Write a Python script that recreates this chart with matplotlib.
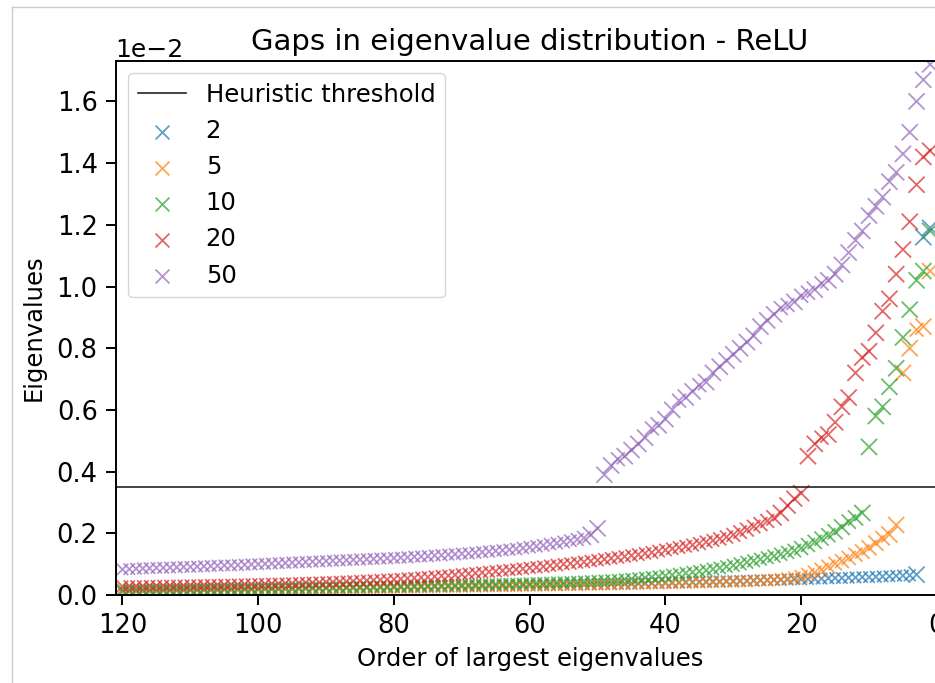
import numpy as np
import matplotlib
matplotlib.use("Agg")
import matplotlib.pyplot as plt
from matplotlib.lines import Line2D

# eigenvalues (in units of 1e-2), ordered from the largest (rank 1) to rank 120
SCALE = 1e-2
threshold = 0.35

ranks = np.arange(1, 121)

eig_2 = [
    1.190, 1.160,
    0.066, 0.064, 0.063, 0.062, 0.061, 0.060, 0.059, 0.058, 0.058, 0.057,
    0.056, 0.055, 0.055, 0.054, 0.053, 0.053, 0.052, 0.051, 0.051, 0.050,
    0.049, 0.049, 0.048, 0.048, 0.047, 0.046, 0.046, 0.045, 0.045, 0.044,
    0.044, 0.043, 0.043, 0.042, 0.042, 0.041, 0.041, 0.040, 0.040, 0.039,
    0.039, 0.038, 0.038, 0.037, 0.037, 0.036, 0.036, 0.036, 0.035, 0.035,
    0.034, 0.034, 0.034, 0.033, 0.033, 0.032, 0.032, 0.032, 0.031, 0.031,
    0.031, 0.030, 0.030, 0.030, 0.029, 0.029, 0.029, 0.028, 0.028, 0.028,
    0.027, 0.027, 0.027, 0.026, 0.026, 0.026, 0.025, 0.025, 0.025, 0.024,
    0.024, 0.024, 0.023, 0.023, 0.023, 0.022, 0.022, 0.022, 0.021, 0.021,
    0.021, 0.020, 0.020, 0.020, 0.019, 0.019, 0.019, 0.018, 0.018, 0.018,
    0.017, 0.017, 0.017, 0.016, 0.016, 0.016, 0.015, 0.015, 0.015, 0.014,
    0.014, 0.014, 0.013, 0.013, 0.013, 0.012, 0.012, 0.011,
]

eig_5 = [
    1.050, 0.870, 0.860, 0.800, 0.720,
    0.227, 0.196, 0.184, 0.168, 0.153, 0.141, 0.131, 0.120, 0.110, 0.102,
    0.092, 0.082, 0.073, 0.066, 0.060, 0.056, 0.053, 0.051, 0.049, 0.048,
    0.047, 0.046, 0.045, 0.044, 0.043, 0.043, 0.042, 0.041, 0.041, 0.040,
    0.040, 0.039, 0.039, 0.038, 0.038, 0.037, 0.037, 0.036, 0.036, 0.035,
    0.035, 0.035, 0.034, 0.034, 0.033, 0.033, 0.033, 0.032, 0.032, 0.032,
    0.031, 0.031, 0.031, 0.030, 0.030, 0.030, 0.029, 0.029, 0.029, 0.028,
    0.028, 0.028, 0.027, 0.027, 0.027, 0.026, 0.026, 0.026, 0.026, 0.025,
    0.025, 0.025, 0.024, 0.024, 0.024, 0.023, 0.023, 0.023, 0.023, 0.022,
    0.022, 0.022, 0.021, 0.021, 0.021, 0.021, 0.020, 0.020, 0.020, 0.019,
    0.019, 0.019, 0.019, 0.018, 0.018, 0.018, 0.017, 0.017, 0.017, 0.017,
    0.016, 0.016, 0.016, 0.015, 0.015, 0.015, 0.015, 0.014, 0.014, 0.014,
    0.013, 0.013, 0.013, 0.012, 0.012,
]

eig_10 = [
    1.180, 1.050, 1.020, 0.925, 0.835, 0.735, 0.675, 0.610, 0.580, 0.480,
    0.266, 0.250, 0.238, 0.220, 0.205, 0.194, 0.183, 0.172, 0.162, 0.152,
    0.144, 0.138, 0.132, 0.126, 0.121, 0.116, 0.111, 0.106, 0.101, 0.096,
    0.092, 0.088, 0.084, 0.080, 0.077, 0.074, 0.071, 0.068, 0.065, 0.062,
    0.060, 0.058, 0.056, 0.054, 0.052, 0.051, 0.049, 0.048, 0.047, 0.046,
    0.045, 0.044, 0.043, 0.042, 0.041, 0.041, 0.040, 0.039, 0.039, 0.038,
    0.037, 0.037, 0.036, 0.036, 0.035, 0.035, 0.034, 0.034, 0.033, 0.033,
    0.032, 0.032, 0.031, 0.031, 0.031, 0.030, 0.030, 0.029, 0.029, 0.029,
    0.028, 0.028, 0.028, 0.027, 0.027, 0.027, 0.026, 0.026, 0.026, 0.025,
    0.025, 0.025, 0.025, 0.024, 0.024, 0.024, 0.023, 0.023, 0.023, 0.023,
    0.022, 0.022, 0.022, 0.022, 0.021, 0.021, 0.021, 0.021, 0.020, 0.020,
    0.020, 0.020, 0.019, 0.019, 0.019, 0.019, 0.018, 0.018, 0.018, 0.018,
]

eig_20 = [
    1.440, 1.420, 1.330, 1.210, 1.120, 1.040, 0.960, 0.920, 0.850, 0.790,
    0.770, 0.720, 0.640, 0.610, 0.560, 0.520, 0.510, 0.490, 0.450,
    0.330,
    0.312, 0.290, 0.266, 0.250, 0.240, 0.230, 0.222, 0.212, 0.204, 0.195,
    0.188, 0.182, 0.177, 0.172, 0.167, 0.162, 0.158, 0.154, 0.150, 0.146,
    0.142, 0.138, 0.135, 0.131, 0.128, 0.125, 0.122, 0.119, 0.116, 0.113,
    0.110, 0.107, 0.105, 0.102, 0.100, 0.097, 0.095, 0.092, 0.090, 0.088,
    0.085, 0.083, 0.081, 0.079, 0.077, 0.075, 0.073, 0.071, 0.069, 0.067,
    0.065, 0.063, 0.062, 0.060, 0.058, 0.057, 0.055, 0.054, 0.052, 0.051,
    0.050, 0.049, 0.048, 0.047, 0.046, 0.045, 0.044, 0.043, 0.042, 0.042,
    0.041, 0.040, 0.040, 0.039, 0.038, 0.038, 0.037, 0.037, 0.036, 0.036,
    0.035, 0.035, 0.034, 0.034, 0.033, 0.033, 0.033, 0.032, 0.032, 0.032,
    0.031, 0.031, 0.031, 0.030, 0.030, 0.030, 0.029, 0.029, 0.029, 0.028,
]

eig_50 = [
    1.720, 1.670, 1.600, 1.500, 1.430, 1.370, 1.340, 1.290, 1.260, 1.230,
    1.180, 1.150, 1.110, 1.070, 1.040, 1.020, 1.010, 0.990, 0.980, 0.970,
    0.950, 0.940, 0.930, 0.910, 0.890, 0.870, 0.840, 0.820, 0.800, 0.780,
    0.760, 0.740, 0.720, 0.690, 0.680, 0.660, 0.640, 0.630, 0.600, 0.570,
    0.550, 0.540, 0.510, 0.490, 0.470, 0.450, 0.440, 0.420, 0.390,
    0.216,
    0.195, 0.185, 0.180, 0.176, 0.172, 0.168, 0.165, 0.161, 0.158, 0.155,
    0.152, 0.149, 0.147, 0.145, 0.143, 0.141, 0.139, 0.137, 0.135, 0.134,
    0.132, 0.131, 0.129, 0.128, 0.126, 0.125, 0.124, 0.122, 0.121, 0.120,
    0.119, 0.118, 0.117, 0.116, 0.115, 0.114, 0.113, 0.112, 0.111, 0.110,
    0.109, 0.108, 0.107, 0.106, 0.105, 0.104, 0.103, 0.102, 0.101, 0.100,
    0.099, 0.098, 0.097, 0.096, 0.096, 0.095, 0.094, 0.093, 0.092, 0.091,
    0.091, 0.090, 0.089, 0.088, 0.088, 0.087, 0.086, 0.085, 0.084, 0.083,
]

series_labels = ["2", "5", "10", "20", "50"]
series_values = [eig_2, eig_5, eig_10, eig_20, eig_50]
colors = ["tab:blue", "tab:orange", "tab:green", "tab:red", "tab:purple"]


def marker_sizes(vals):
    # bigger crosses where the spectrum is sparse (large gap to the next eigenvalue)
    v = np.asarray(vals)
    gap = np.empty_like(v)
    gap[0] = 1.0
    gap[1:] = v[:-1] - v[1:]
    return 65 + 70 * np.clip(gap / 0.02, 0, 1)


plt.rcParams["font.family"] = "DejaVu Sans"
plt.rcParams["font.size"] = 17.5

fig = plt.figure(figsize=(9.35, 6.83), dpi=100)
W, H = 935, 683
ax = fig.add_axes([115.7 / W, 88 / H, 828 / W, 534 / H])

ax.axhline(threshold * SCALE, color="#222222", lw=1.2, label="Heuristic threshold")
for lab, vals, c in zip(series_labels, series_values, colors):
    v = np.asarray(vals) * SCALE
    ax.scatter(ranks, v, marker="x", s=marker_sizes(vals), color=c,
               alpha=0.7, linewidths=1.3, label=lab)

ax.set_xlim(121, -1)
ax.set_ylim(0, 1.731 * SCALE)
ax.set_xticks([120, 100, 80, 60, 40, 20, 0])
ax.ticklabel_format(axis="y", style="sci", scilimits=(-2, -2))
ax.yaxis.get_offset_text().set_fontsize(18)

ax.set_title("Gaps in eigenvalue distribution - ReLU", fontsize=21, pad=8)
ax.set_xlabel("Order of largest eigenvalues", fontsize=17.5, labelpad=6)
ax.set_ylabel("Eigenvalues", fontsize=17.5, labelpad=8)

for sp in ax.spines.values():
    sp.set_linewidth(1.4)
ax.tick_params(width=1.4, length=7, pad=6, labelsize=18.5)

ax.legend(loc="upper left", fontsize=17.5, framealpha=0.8)

# thin frame line along the top and left edges
fig.add_artist(Line2D([12 / W, 12 / W], [0, 676 / H], color="#cccccc", lw=1,
                      transform=fig.transFigure))
fig.add_artist(Line2D([12 / W, 1], [676 / H, 676 / H], color="#cccccc", lw=1,
                      transform=fig.transFigure))

fig.savefig("out.png", dpi=100)
